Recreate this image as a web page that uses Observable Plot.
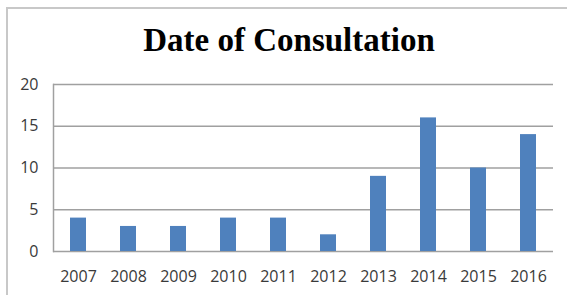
<!DOCTYPE html>
<html>
<head>
<meta charset="utf-8">
<script src="https://cdn.jsdelivr.net/npm/d3@7"></script>
<script src="https://cdn.jsdelivr.net/npm/@observablehq/plot@0.6"></script>
<style>
  html, body { margin: 0; padding: 0; background: #fff; overflow: hidden; }
  #wrap { position: relative; width: 567px; height: 295px; }
  #border { position: absolute; left: 6px; top: 7px; width: 600px; height: 320px; border: 2px solid #c8c8c8; box-sizing: border-box; }
  #title { position: absolute; left: 0; width: 578px; top: 24px; text-align: center; font-family: "Liberation Serif", "DejaVu Serif", serif; font-weight: bold; font-size: 33px; color: #000; line-height: 1; }
  #chart { position: absolute; left: 0; top: 0; }
</style>
</head>
<body>
<div id="wrap">
  <div id="border"></div>
  <div id="title">Date of Consultation</div>
  <div id="chart"></div>
</div>
<script>
const years = ["2007","2008","2009","2010","2011","2012","2013","2014","2015","2016"];
const counts = [4, 3, 3, 4, 4, 2, 9, 16, 10, 14];
const yTicks = [0, 5, 10, 15, 20];

const data = years.map((y, i) => ({year: y, count: counts[i]}));

const chart = Plot.plot({
  width: 567,
  height: 295,
  marginLeft: 53,
  marginRight: 14,
  marginTop: 84,
  marginBottom: 44,
  style: {fontFamily: "'Open Sans', 'Liberation Sans', Arial, sans-serif", fontSize: "16px", color: "#404040", background: "transparent"},
  x: {domain: years, paddingInner: 0.68, paddingOuter: 0.34, align: 0.5, label: null},
  y: {domain: [0, 20], ticks: yTicks, label: null},
  marks: [
    Plot.gridY(yTicks, {stroke: "#a0a0a0", strokeOpacity: 1, strokeWidth: 1.5}),
    Plot.frame({anchor: "left", stroke: "#a0a0a0", strokeWidth: 1.5}),
    Plot.barY(data, {x: "year", y: "count", fill: "#4f81bd"}),
    Plot.axisY(yTicks, {tickSize: 0, tickPadding: 15, fill: "#3a3a3a", fontSize: 16}),
    Plot.axisX({tickSize: 0, tickPadding: 19, fill: "#3a3a3a", fontSize: 16})
  ]
});
document.getElementById("chart").appendChild(chart);
</script>
</body>
</html>
